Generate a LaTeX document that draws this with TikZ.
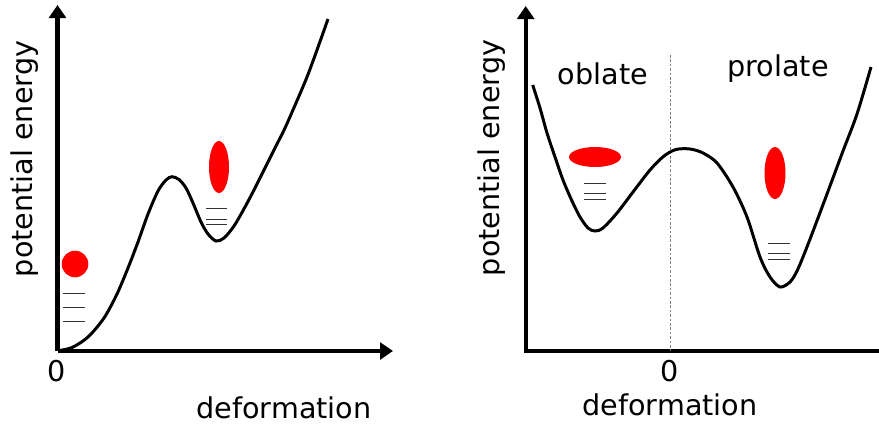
\documentclass[tikz,border=0pt]{standalone}
\usepackage{fontspec}
\setmainfont{DejaVu Sans}
\usetikzlibrary{arrows.meta}

\begin{document}
\begin{tikzpicture}[
  x=0.02cm, y=-0.02cm,
  lbl/.style={font=\fontsize{16.3}{19}\selectfont, inner sep=0pt},
  axis/.style={line width=2.3pt},
  arr/.style={axis, -{Triangle[width=9.6pt, length=7.4pt]}},
  curve/.style={line width=1.7pt, smooth, tension=0.5},
  level/.style={line width=0.5pt, black!80},
  blob/.style={fill=red}
]
  \useasboundingbox (0,0) rectangle (879,423);
  % left panel
  \coordinate (oL) at (57.5,351);
  \coordinate (yL) at (57.5,5);
  \coordinate (xL) at (393,351);
  \draw[arr] (oL) -- (yL);
  \draw[arr] (oL) -- (xL);
  \node[lbl] (zeroL) at (57,371) {0};
  \node[lbl] (defL) at (284,408) {deformation};
  \node[lbl, rotate=90] (potL) at (25,159) {potential energy};
  \draw[curve] plot coordinates {(58,350.7) (72,347.5) (88,337) (104,318)
    (117,294) (128,268) (138,242) (148,214) (158,191) (166,180) (172,176.7)
    (179,179.5) (186,188) (193,203) (201,222) (208,234) (216,241) (224,238)
    (234,226) (245,207) (255,188) (265,168) (275,148) (285,128) (296,103)
    (307,77) (317,50) (328,19)};
  \fill[blob] (75,264) circle (13.3);
  \fill[blob] (219,167) ellipse (10 and 26);
  \foreach \y in {293,307,321} \draw[level] (63,\y) -- (85,\y);
  \foreach \y in {208,219,224} \draw[level] (206,\y) -- (227,\y);
  % right panel
  \coordinate (oR) at (525.7,351);
  \coordinate (yR) at (525.7,6);
  \coordinate (xR) at (879,351);
  \coordinate (topR) at (670,55);
  \coordinate (botR) at (670,351);
  \draw[arr] (oR) -- (yR);
  \draw[axis] ([xshift=-1.1pt]oR) -- (xR);
  \draw[line width=0.5pt, gray, dash pattern=on 1.5pt off 1pt] (topR) -- (botR);
  \node[lbl] (zeroR) at (670,371) {0};
  \node[lbl] (defR) at (670,405) {deformation};
  \node[lbl, rotate=90] (potR) at (492,158) {potential energy};
  \node[lbl] (oblate) at (603,74) {oblate};
  \node[lbl] (prolate) at (778,69) {prolate};
  \draw[curve] plot coordinates {(532.7,85) (540,108) (547,133) (555,157)
    (563,180) (572,201) (580,217) (588,228) (595,231) (603,228) (617,213)
    (633,192) (650,170) (664,156) (676,149.5) (690,149) (703,153) (717,163)
    (733,187) (747,217) (760,257) (770,277) (780,287) (790,282) (797,271)
    (805,252) (815,226) (827,194) (843,151) (857,114) (871,67)};
  \fill[blob] (595,157) ellipse (26 and 10);
  \fill[blob] (775,173) ellipse (10.5 and 26);
  \foreach \y in {183,193,199} \draw[level] (584,\y) -- (606,\y);
  \foreach \y in {243,253,259} \draw[level] (768,\y) -- (790,\y);
\end{tikzpicture}
\end{document}
